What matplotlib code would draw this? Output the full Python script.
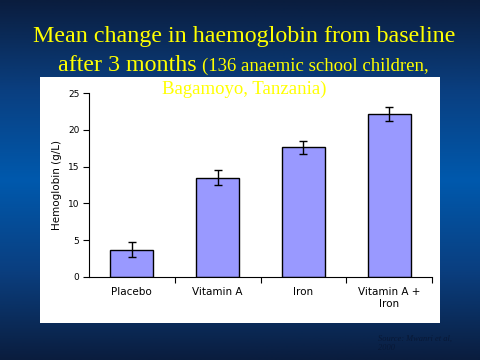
import numpy as np
import matplotlib.pyplot as plt
from matplotlib.colors import LinearSegmentedColormap

groups = ["Placebo", "Vitamin A", "Iron", "Vitamin A +\nIron"]
change = [3.7, 13.5, 17.6, 22.1]
err = [1.0, 1.0, 0.9, 0.95]

fig = plt.figure(figsize=(4.8, 3.6), dpi=100)

# background gradient, dark-blue-dark from top to bottom
bg = fig.add_axes([0, 0, 1, 1])
cmap = LinearSegmentedColormap.from_list("bg", ["#0a1d3e", "#0a3f80", "#0059ad", "#0a3f80", "#0a1d3e"])
grad = np.linspace(0, 1, 256).reshape(-1, 1)
bg.imshow(grad, aspect="auto", cmap=cmap, extent=[0, 1, 0, 1])
bg.axis("off")

# white panel
panel = fig.add_axes([40/480, 1-323/360, 400/480, (323-77)/360])
panel.set_facecolor("white")
panel.set_xticks([])
panel.set_yticks([])
for s in panel.spines.values():
    s.set_visible(False)

ax = fig.add_axes([89/480, 1-277/360, (432-89)/480, (277-93)/360])
x = np.arange(len(groups))
ax.bar(x, change, width=0.5, color="#9999ff", edgecolor="black", linewidth=1,
       yerr=err, error_kw=dict(ecolor="black", elinewidth=1, capsize=3, capthick=1))
ax.set_xlim(-0.5, 3.5)
ax.set_ylim(0, 25)
ax.set_yticks([0, 5, 10, 15, 20, 25])
ax.set_xticks([0.5, 1.5, 2.5, 3.5], minor=False)
ax.set_xticklabels([])
ax.tick_params(axis="x", length=4, direction="out")
ax.tick_params(axis="y", length=4, direction="out", labelsize=6.5, pad=3)
for i, g in enumerate(groups):
    ax.text(i, -1.3, g, ha="center", va="top", fontsize=7.5, family="DejaVu Sans",
            linespacing=1.3)
ax.set_ylabel("Hemoglobin (g/L)", fontsize=7.5, labelpad=4)
ax.spines["top"].set_visible(False)
ax.spines["right"].set_visible(False)
ax.patch.set_alpha(0)

yel = "#ffff00"
fig.text(244/480, 1-42/360, "Mean change in haemoglobin from baseline", ha="center",
         va="baseline", color=yel, family="Liberation Serif", fontsize=17.3)
fig.text(197/480, 1-71/360, "after 3 months", ha="right", va="baseline",
         color=yel, family="Liberation Serif", fontsize=17.3)
fig.text(202/480, 1-71/360, "(136 anaemic school children,", ha="left", va="baseline",
         color=yel, family="Liberation Serif", fontsize=13.5)
fig.text(244/480, 1-94/360, "Bagamoyo, Tanzania)", ha="center", va="baseline",
         color=yel, family="Liberation Serif", fontsize=13.5)
fig.text(378/480, 1-350/360, "Source: Mwanri et al,\n2000", ha="left", va="baseline",
         color="#081836", family="Liberation Serif", fontsize=6, style="italic")

fig.savefig("out.png", dpi=100)
